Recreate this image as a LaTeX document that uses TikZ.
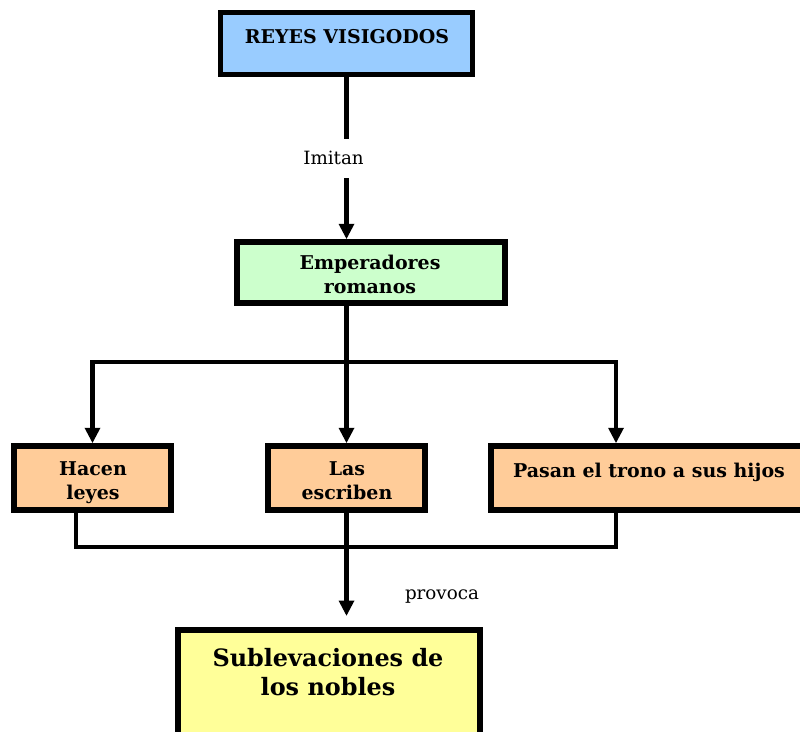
\documentclass[tikz,border=0pt]{standalone}
\usepackage{fontspec}
\setmainfont{DejaVu Serif}
\usepackage{tikz}
\usetikzlibrary{arrows.meta,positioning}
\usepackage{xcolor}
\definecolor{vsblue}{RGB}{153,204,255}
\definecolor{vsgreen}{RGB}{204,255,204}
\definecolor{vsorange}{RGB}{255,204,153}
\definecolor{vsyellow}{RGB}{255,255,153}
\tikzstyle{box} = [draw=black,line width=3.9pt,inner sep=0pt]
\tikzstyle{boxtext} = [font=\bfseries\fontsize{13.5}{16.5}\selectfont,align=center,anchor=base,inner sep=0pt]
\tikzstyle{link} = [line width=3.1pt]
\tikzstyle{arrow} = [line width=3.1pt,-{Triangle[length=11pt,width=10.5pt]}]

\begin{document}
\begin{tikzpicture}[x=0.025cm,y=-0.025cm]
\useasboundingbox (0,0) rectangle (800,731);
\clip (0,0) rectangle (800,731);

% Boxes
\node[box,fill=vsblue,minimum width=6.3cm,minimum height=1.55cm] (reyes) at (346.5,43.5) {};
\node[box,fill=vsgreen,minimum width=6.7cm,minimum height=1.525cm] (emp) at (371,272.5) {};
\node[box,fill=vsorange,minimum width=3.925cm,minimum height=1.6cm] (hacen) at (92.5,478) {};
\node[box,fill=vsorange,minimum width=3.925cm,minimum height=1.6cm] (las) at (346.5,478) {};
\node[box,fill=vsorange,minimum width=7.9cm,minimum height=1.6cm] (pasan) at (649,478) {};
\node[box,fill=vsyellow,minimum width=7.55cm,minimum height=2.75cm] (sub) at (329,685) {};

% Texts (base = last line)
\node[boxtext] (reyestxt) at (347,43) {REYES VISIGODOS};
\node[boxtext] (emptxt) at (370,293) {Emperadores\\romanos};
\node[boxtext] (hacentxt) at (93,499) {Hacen\\leyes};
\node[boxtext] (lastxt) at (347,499) {Las\\escriben};
\node[boxtext] (pasantxt) at (649,477) {Pasan el trono a sus hijos};
\node[boxtext,font=\bfseries\fontsize{17}{20.6}\selectfont] (subtxt) at (328,695) {Sublevaciones de\\los nobles};

% Coordinates
\coordinate (split) at (346.5,362);
\coordinate (rbranch) at (616,362);
\coordinate (lmerge) at (76,547);
\coordinate (rmerge) at (616,547);
\coordinate (provtip) at (346.5,616);

% Connectors
\draw[arrow] (reyes.south) -- node[fill=white,xshift=-0.325cm,inner xsep=2pt,inner ysep=9pt,font=\fontsize{13}{15}\selectfont] (imitan) {Imitan} (emp.north -| reyes.south);
\draw[arrow] (emp.south -| las.north) -- (las.north);
\draw[arrow] (split) -| (hacen.north);
\draw[arrow] (split) -| (rbranch |- pasan.north);
\draw[link] (hacen.south -| lmerge) |- (rmerge) -- (pasan.south -| rmerge);
\draw[arrow] (las.south) -- (provtip);
\node[font=\fontsize{13}{15}\selectfont] (provoca) at (442,597) {provoca};
\end{tikzpicture}
\end{document}
